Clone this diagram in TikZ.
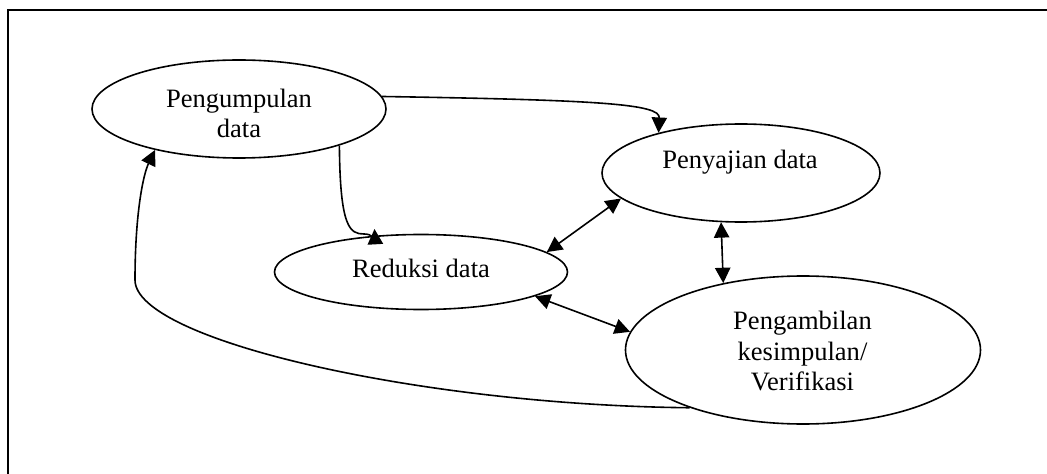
\documentclass[tikz,border=0pt]{standalone}
\usepackage{fontspec}
\setmainfont{Liberation Serif}
\usetikzlibrary{arrows.meta,shapes.geometric}
\begin{document}
\begin{tikzpicture}[x=0.75pt,y=-0.75pt,
  ell/.style={draw, ellipse, line width=1.2pt, inner sep=0pt},
  lbl/.style={font=\fontsize{19.9}{22.8}\selectfont, align=center, inner sep=0pt},
  conn/.style={line width=1.2pt, -{Triangle[length=11.5pt,width=11.5pt]}},
  bi/.style={line width=1.2pt, {Triangle[length=11.5pt,width=11.5pt]}-{Triangle[length=11.5pt,width=11.5pt]}},
  frameline/.style={line width=1.6pt}]
\clip (0,0) rectangle (1047,474);
\draw[frameline] (1060,10) -- (8,10) -- (8,490);

\node[ell, minimum width=220.5pt, minimum height=73.5pt] (peng) at (239,109) {};
\node[ell, minimum width=208.5pt, minimum height=73.5pt] (pen) at (741,173) {};
\node[ell, minimum width=219.75pt, minimum height=56.25pt] (red) at (421,272) {};
\node[ell, minimum width=266.25pt, minimum height=111pt] (kes) at (803,350) {};

\node[lbl] (t1) at (239,113.5) {Pengumpulan\\data};
\node[lbl, anchor=base] (t2) at (740,169) {Penyajian data};
\node[lbl, anchor=base] (t3) at (421,277) {Reduksi data};
\node[lbl] (t4) at (802.5,351) {Pengambilan\\kesimpulan/\\Verifikasi};

\draw[conn] (peng.5) .. controls (600,100) and (660,104) .. (pen.154);
\draw[conn] (peng.-20) .. controls (340,228) and (350,234) .. (364,234)
   .. controls (372,234) and (375,238) .. ([yshift=5pt]red.142);
\draw[bi] (red.9) -- (pen.192);
\draw[bi] (pen.248) -- (kes.140);
\draw[bi] (red.-12) -- (kes.174);
\draw[conn] (kes.207) .. controls (420,405) and (135,340) .. (135,280)
   .. controls (135,215) and (143,175) .. (peng.206);
\end{tikzpicture}
\end{document}
